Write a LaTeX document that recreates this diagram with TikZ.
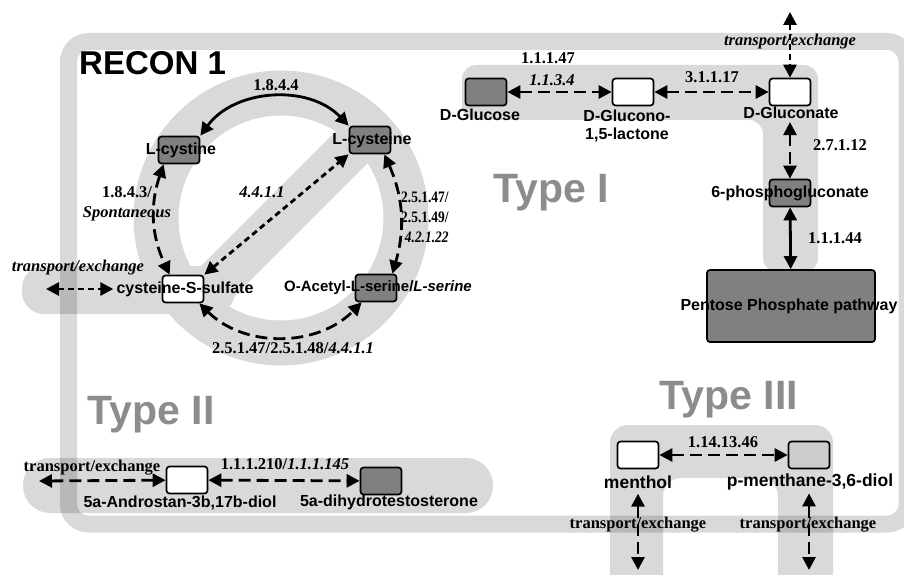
\documentclass[tikz,border=0pt]{standalone}
\usepackage{fontspec}
\setmainfont{Liberation Serif}
\setsansfont{Liberation Sans}
\newfontfamily\narrowserif[FakeStretch=0.84]{Liberation Serif}
\usetikzlibrary{arrows.meta}
\definecolor{bandgray}{HTML}{D9D9D9}
\definecolor{boxdark}{HTML}{808080}
\definecolor{boxlight}{HTML}{CCCCCC}
\definecolor{typegray}{HTML}{8C8C8C}

\begin{document}
\begin{tikzpicture}[x=1pt,y=1pt,
    met/.style={draw, line width=1.7pt, rounded corners=3pt, minimum width=41pt, minimum height=27pt, inner sep=0pt},
    metlab/.style={font=\sffamily\bfseries\fontsize{16}{18}\selectfont, inner sep=0pt},
    ec/.style={font=\bfseries\fontsize{16.5}{20}\selectfont, inner sep=0pt},
    typelab/.style={font=\sffamily\bfseries\fontsize{41}{45}\selectfont, text=typegray, inner sep=0pt},
    rxn/.style={line width=2.8pt, {Triangle[length=13pt,width=13pt]}-{Triangle[length=13pt,width=13pt]}},
    dsh/.style={rxn, dash pattern=on 12pt off 6pt},
    dts/.style={rxn, dash pattern=on 6pt off 4pt}]
    \useasboundingbox (0,0) rectangle (904,574);
    \clip (0,0) rectangle (904,574);
    % bands
    \path[draw=bandgray, line width=45pt] (281,356) circle (125pt) (193,268) -- (369,444);
    \path[fill=bandgray, rounded corners=22pt] (22,260) rectangle (235,308);
    \path[fill=bandgray, rounded corners=14pt] (462,509) -- (818,509) -- (818,302) -- (763,302) -- (763,454) -- (462,454) -- cycle;
    \path[fill=bandgray, rounded corners=27pt] (23,61) rectangle (493,116);
    \path[fill=bandgray, rounded corners=18pt] (610,149) -- (833,149) -- (833,-20) -- (778,-20) -- (778,96) -- (663,96) -- (663,-20) -- (610,-20) -- cycle;
    % compartment
    \path[draw=black, draw opacity=0.15, line width=17pt, rounded corners=20pt] (68.5,50) rectangle (907,532.5);
    \node[anchor=west, inner sep=0pt, font=\sffamily\bfseries\fontsize{33}{36}\selectfont] (recon) at (79,511) {RECON 1};
    \node[typelab] (type1) at (551,381) {Type I};
    \node[typelab] (type2) at (151,159) {Type II};
    \node[typelab] (type3) at (729,174) {Type III};
    % metabolites
    \node[met, fill=boxdark] (lcystine) at (179,424) {};
    \node[met, fill=boxdark] (lcysteine) at (370,434) {};
    \node[met, fill=white] (cyss) at (183,285) {};
    \node[met, fill=boxdark] (oacetyl) at (376,286) {};
    \node[met, fill=boxdark] (dglucose) at (486,482) {};
    \node[met, fill=white] (dglucono) at (633,482) {};
    \node[met, fill=white] (dgluconate) at (790,482) {};
    \node[met, fill=boxdark] (pgluconate) at (790,381) {};
    \node[met, fill=boxdark, minimum width=168pt, minimum height=72pt] (ppp) at (791,268) {};
    \node[met, fill=white] (androstan) at (187,94) {};
    \node[met, fill=boxdark] (dht) at (381,93) {};
    \node[met, fill=white] (menthol) at (638,119) {};
    \node[met, fill=boxlight] (pmenthane) at (809,119) {};
    % names
    \node[metlab] (lcystinelab) at (181,424) {L-cystine};
    \node[metlab] (lcysteinelab) at (372,434) {L-cysteine};
    \node[metlab] (cysslab) at (185,285) {cysteine-S-sulfate};
    \node[metlab, font=\sffamily\bfseries\fontsize{15}{18}\selectfont] (oacetyllab) at (378,286) {O-Acetyl-L-serine/\textit{L-serine}};
    \node[metlab] (dglucoselab) at (480,459) {D-Glucose};
    \node[metlab, align=center] (dgluconolab) at (627,448) {D-Glucono-\\1,5-lactone};
    \node[metlab] (dgluconatelab) at (791,461) {D-Gluconate};
    \node[metlab] (pgluconatelab) at (790,381) {6-phosphogluconate};
    \node[metlab] (ppplab) at (789,268) {Pentose Phosphate pathway};
    \node[metlab] (androstanlab) at (180,71) {5a-Androstan-3b,17b-diol};
    \node[metlab] (dhtlab) at (389,72) {5a-dihydrotestosterone};
    \node[metlab, font=\sffamily\bfseries\fontsize{17.5}{20}\selectfont] (mentholab) at (638,92) {menthol};
    \node[metlab, font=\sffamily\bfseries\fontsize{17.5}{20}\selectfont] (pmenthanelab) at (810,92) {p-menthane-3,6-diol};
    % enzymes
    \node[ec] (ec1) at (276,489) {1.8.4.4};
    \node[ec, align=center] (ec2) at (127,370) {1.8.4.3/\\\textit{Spontaneous}};
    \node[ec] (ec3) at (262,382) {\textit{4.4.1.1}};
    \node[ec, align=right, anchor=west, font=\narrowserif\bfseries\fontsize{16}{20}\selectfont] (ec4) at (401,357) {2.5.1.47/\\2.5.1.49/\\\textit{4.2.1.22}};
    \node[ec] (ec5) at (293,226) {2.5.1.47/2.5.1.48/\textit{4.4.1.1}};
    \node[ec] (tex1) at (78,306) {\textit{transport/exchange}};
    \node[ec] (ec6) at (548,516) {1.1.1.47};
    \node[ec] (ec7) at (552,494) {\textit{1.1.3.4}};
    \node[ec] (ec8) at (712,497) {3.1.1.17};
    \node[ec] (tex2) at (790,532) {\textit{transport/exchange}};
    \node[ec] (ec9) at (840,429) {2.7.1.12};
    \node[ec] (ec10) at (835,336) {1.1.1.44};
    \node[ec] (tex3) at (92,106) {transport/exchange};
    \node[ec] (ec11) at (285,110) {1.1.1.210/\textit{1.1.1.145}};
    \node[ec] (ec12) at (723,132) {1.14.13.46};
    \node[ec] (tex4) at (638,49) {transport/exchange};
    \node[ec] (tex5) at (808,49) {transport/exchange};
    % free ends
    \coordinate (tl) at (46,285);
    \coordinate (tt) at (790,562);
    \coordinate (ta) at (39,93);
    \coordinate (mb) at (638,4);
    \coordinate (pb) at (809,4);
    % reactions, cysteine cycle
    \path[draw, rxn] (lcystine.north east) to[bend left=50] (lcysteine.north west);
    \path[draw, dsh] ([xshift=6pt]lcystine.south west) to[bend right=22] ([xshift=8pt]cyss.north west);
    \path[draw, dts] (cyss.north east) -- (lcysteine.south west);
    \path[draw, dsh] ([xshift=-7pt]lcysteine.south east) to[bend left=20] ([xshift=-5pt]oacetyl.north east);
    \path[draw, dsh] ([xshift=-5pt]cyss.south east) to[bend right=45] ([xshift=7pt]oacetyl.south west);
    \path[draw, dts] (tl) -- ([xshift=-3pt]cysslab.west);
    % Type I
    \path[draw, dsh] (dglucose) -- (dglucono);
    \path[draw, dsh] (dglucono) -- (dgluconate);
    \path[draw, dts] (tt) -- (dgluconate);
    \path[draw, dsh, shorten <=3pt] (dgluconatelab.south -| dgluconate) -- (pgluconate);
    \path[draw, rxn] (pgluconate) -- (ppp);
    % Type II
    \path[draw, dsh] (ta) -- (androstan);
    \path[draw, dsh] (androstan) -- (dht);
    % Type III
    \path[draw, dsh] (menthol) -- (pmenthane);
    \path[draw, dsh, shorten <=5pt] (mentholab.south) -- (mb);
    \path[draw, dsh, shorten <=3pt] (pmenthanelab.south -| pmenthane) -- (pb);
\end{tikzpicture}
\end{document}
